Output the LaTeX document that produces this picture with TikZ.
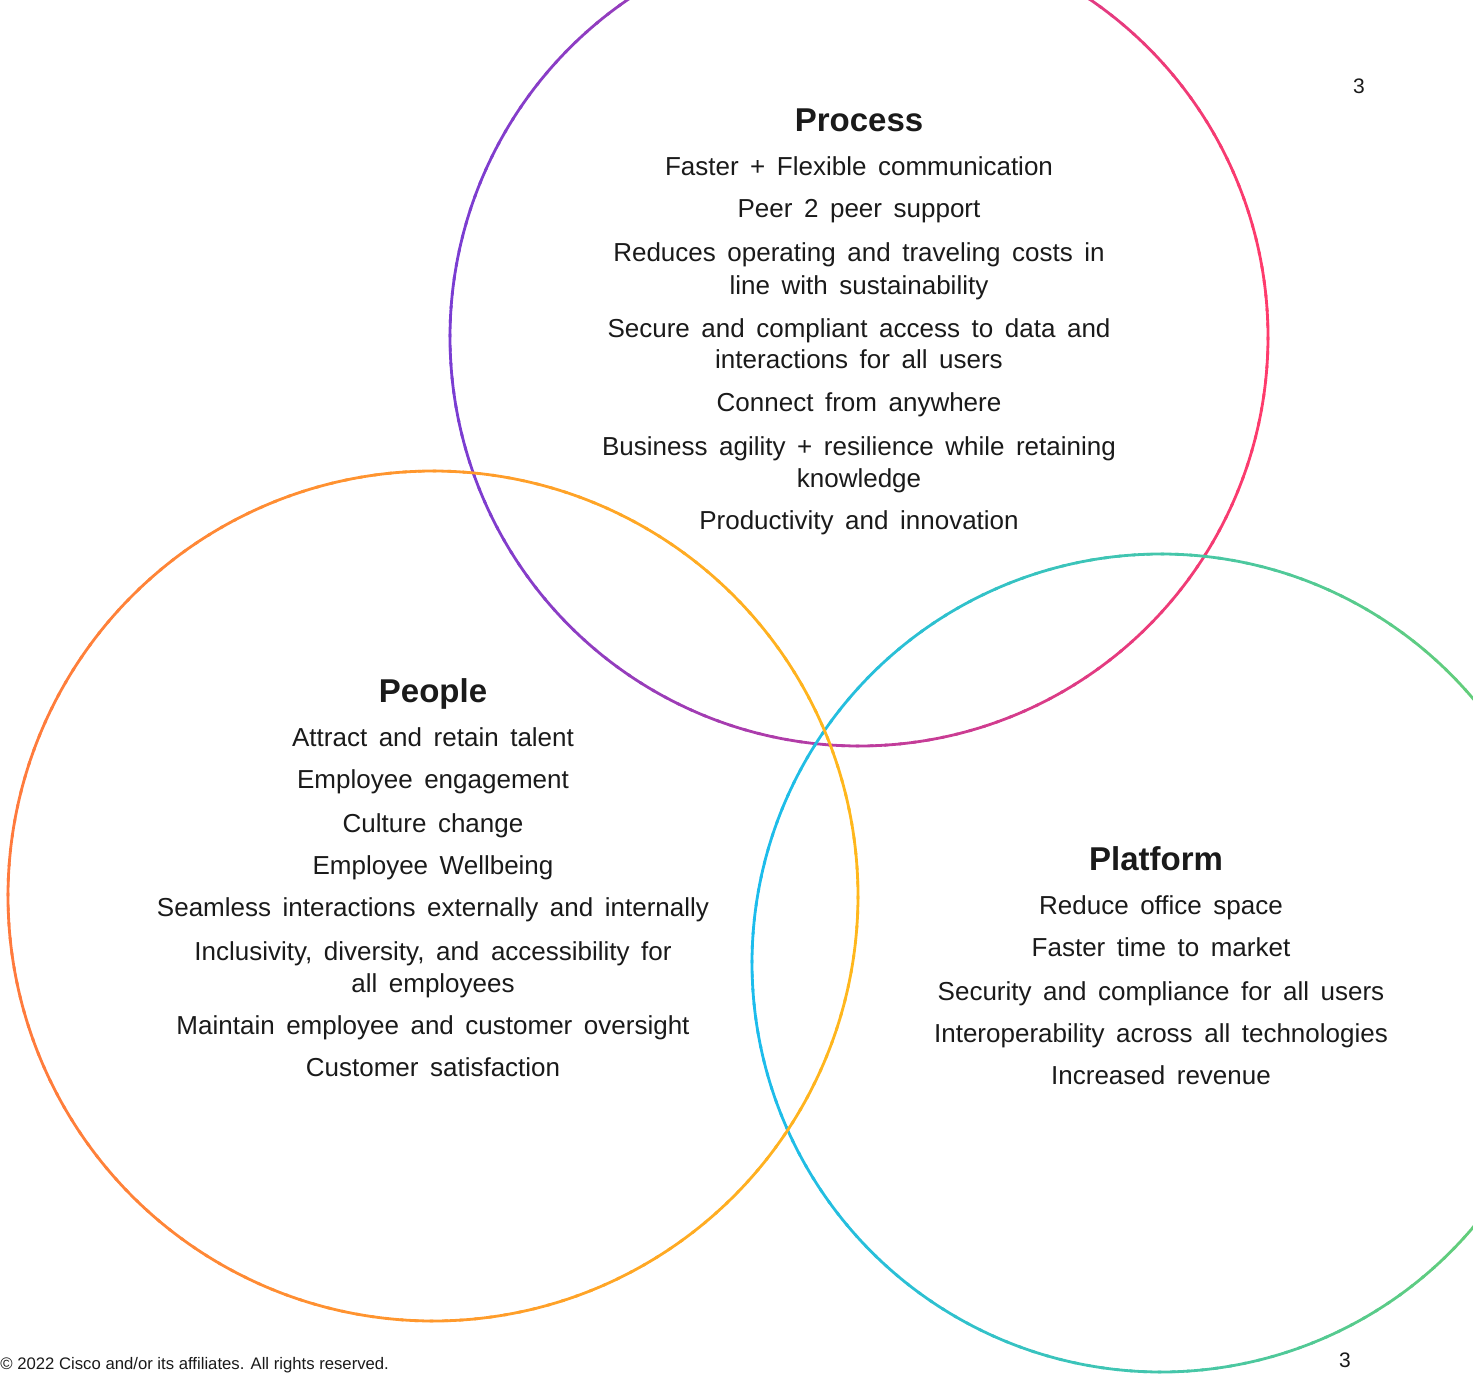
\documentclass[tikz,border=0pt]{standalone}
\usepackage{fontspec}
\setmainfont{Liberation Sans}
\newfontfamily\bodyfont{Liberation Sans}[WordSpace=1.6]
\definecolor{procL}{HTML}{7A3DD2}
\definecolor{procR}{HTML}{FF3B6B}
\definecolor{peopL}{HTML}{FF7A3D}
\definecolor{peopR}{HTML}{FFB81C}
\definecolor{platL}{HTML}{1CBCEC}
\definecolor{platR}{HTML}{6DD06A}
\definecolor{txt}{HTML}{1A1A1A}
\newcommand\gradring[5]{%
  \foreach \a in {0,2,...,358}{%
    \pgfmathtruncatemacro\t{50+50*cos(\a+1)}%
    \draw[ring, draw=#5!\t!#4] (#1,#2) ++(\a:#3) arc[start angle=\a, end angle=\a+2.4, radius=#3];
  }}
\begin{document}
\begin{tikzpicture}[x=0.5pt,y=-0.5pt,
  ring/.style={line width=1.4pt, line cap=round},
  item/.style={anchor=base, text=txt, inner sep=0pt, font=\bodyfont\fontsize{13}{15}\selectfont},
  title/.style={anchor=base, text=txt, inner sep=0pt, font=\fontsize{16.5}{19}\selectfont\bfseries},
  small/.style={anchor=base west, text=txt, inner sep=0pt, font=\fontsize{8.35}{9}\selectfont},
  pnum/.style={anchor=base, text=txt, inner sep=0pt, font=\fontsize{10.5}{12}\selectfont}]
\useasboundingbox (0,0) rectangle (1473,1375);
\begin{scope}
\clip (0,0) rectangle (1473,1375);
\coordinate (cProc) at (859,337);
\coordinate (cPeop) at (433,896);
\coordinate (cPlat) at (1161,963);
\gradring{859}{337}{409}{procL}{procR}
\gradring{1161}{963}{409}{platL}{platR}
\gradring{433}{896}{425}{peopL}{peopR}
\end{scope}
% Process
\node[title] (tProc) at (859,132) {Process};
\node[item] (p1) at (859,176) {Faster + Flexible communication};
\node[item] (p2) at (859,218) {Peer 2 peer support};
\node[item] (p3) at (859,262) {Reduces operating and traveling costs in};
\node[item] (p4) at (859,295) {line with sustainability};
\node[item] (p5) at (859,337) {Secure and compliant access to data and};
\node[item] (p6) at (859,369) {interactions for all users};
\node[item] (p7) at (859,411) {Connect from anywhere};
\node[item] (p8) at (859,455) {Business agility + resilience while retaining};
\node[item] (p9) at (859,487) {knowledge};
\node[item] (p10) at (859,529) {Productivity and innovation};
% People
\node[title] (tPeop) at (433,702) {People};
\node[item] (q1) at (433,746) {Attract and retain talent};
\node[item] (q2) at (433,788) {Employee engagement};
\node[item] (q3) at (433,832) {Culture change};
\node[item] (q4) at (433,874) {Employee Wellbeing};
\node[item] (q5) at (433,916) {Seamless interactions externally and internally};
\node[item] (q6) at (433,960) {Inclusivity, diversity, and accessibility for};
\node[item] (q7) at (433,992) {all employees};
\node[item] (q8) at (433,1034) {Maintain employee and customer oversight};
\node[item] (q9) at (433,1076) {Customer satisfaction};
% Platform
\node[title] (tPlat) at (1156,870) {Platform};
\node[item] (r1) at (1161,914) {Reduce office space};
\node[item] (r2) at (1161,956) {Faster time to market};
\node[item] (r3) at (1161,1000) {Security and compliance for all users};
\node[item] (r4) at (1161,1042) {Interoperability across all technologies};
\node[item] (r5) at (1161,1084) {Increased revenue};
% footer
\node[small] (copy) at (0,1369) {© 2022 Cisco and/or its affiliates. All rights reserved.};
\node[pnum] (n1) at (1359,94) {3};
\node[pnum] (n2) at (1345,1367) {3};
\end{tikzpicture}
\end{document}
